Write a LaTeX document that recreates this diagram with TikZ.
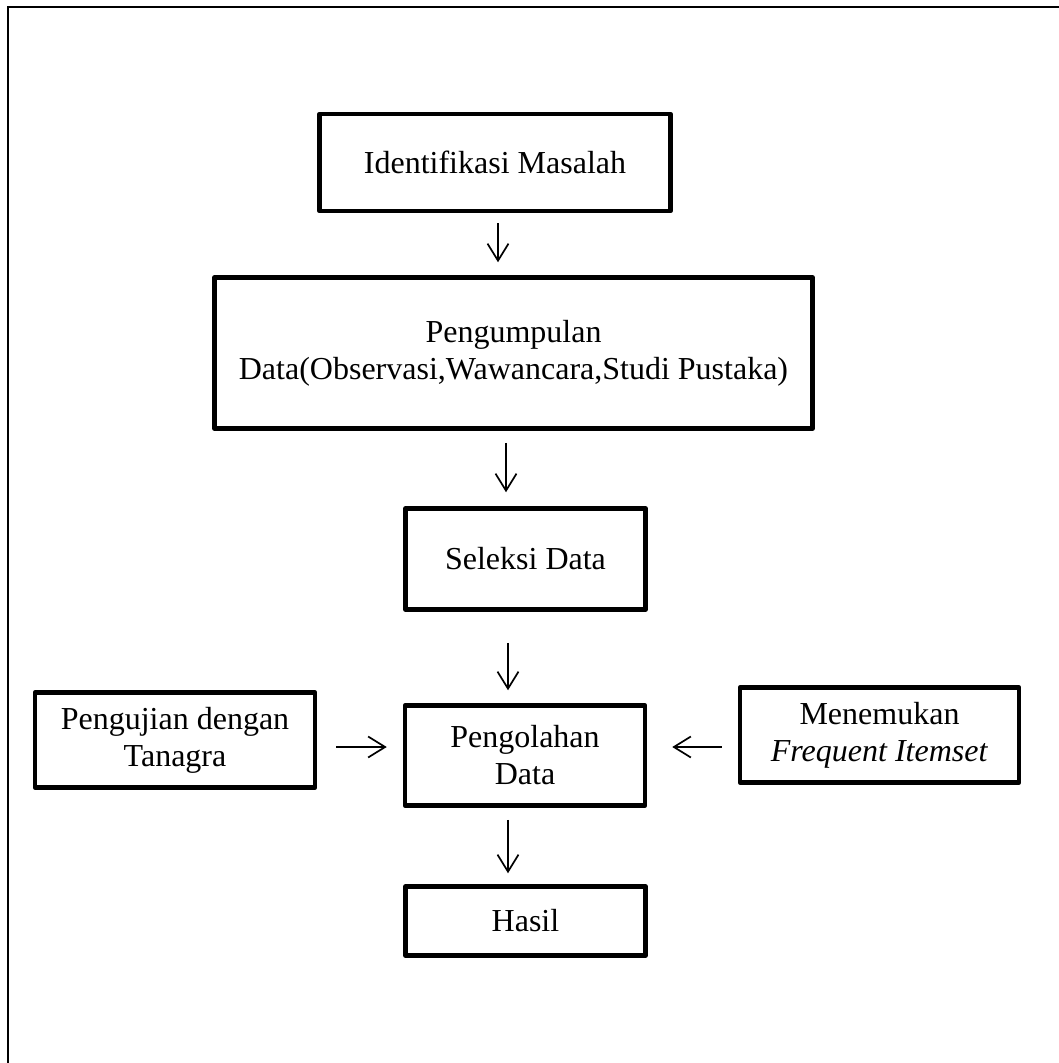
\documentclass[tikz,border=0pt]{standalone}
\usepackage{fontspec}
\setmainfont{Liberation Serif}
\usetikzlibrary{arrows.meta}

\begin{document}
\begin{tikzpicture}[x=1pt,y=-1pt,
  box/.style={draw,line width=4.5pt,line join=round,inner sep=0pt,align=center,font=\fontsize{32}{37}\selectfont},
  arr/.style={-{Straight Barb[length=17pt,width=21pt]},line width=1.7pt}]
  \useasboundingbox (0,0) rectangle (1059,1063);
  \draw[line width=2pt] (8,1080) -- (8,7) -- (1080,7);
  % main column
  \node[box,minimum width=351pt,minimum height=97pt] (ident) at (495,162.5) {Identifikasi Masalah};
  \node[box,minimum width=598pt,minimum height=151pt] (kumpul) at (513.5,353) {Pengumpulan\\Data(Observasi,Wawancara,Studi Pustaka)};
  \node[box,minimum width=240pt,minimum height=101pt] (seleksi) at (525.5,559) {Seleksi Data};
  \node[box,minimum width=240pt,minimum height=100pt] (olah) at (525,755.5) {Pengolahan\\Data};
  \node[box,minimum width=240pt,minimum height=69pt] (hasil) at (525.5,921) {Hasil};
  % side boxes
  \node[box,minimum width=280pt,minimum height=95pt] (uji) at (175,740) {Pengujian dengan\\Tanagra};
  \node[box,minimum width=279pt,minimum height=95pt] (temu) at (879.5,735) {Menemukan\\\textit{Frequent Itemset}};
  % arrows
  \draw[arr] ([xshift=3pt,yshift=-10pt]ident.south) -- ([xshift=-15.5pt,yshift=13pt]kumpul.north);
  \draw[arr] ([xshift=-7.5pt,yshift=-12pt]kumpul.south) -- ([xshift=-19.5pt,yshift=14pt]seleksi.north);
  \draw[arr] ([xshift=-17.5pt,yshift=-31pt]seleksi.south) -- ([xshift=-17pt,yshift=13pt]olah.north);
  \draw[arr] ([xshift=19pt,yshift=-7pt]uji.east) -- ([xshift=-16pt,yshift=8.5pt]olah.west);
  \draw[arr] ([xshift=-16pt,yshift=-12pt]temu.west) -- ([xshift=25pt,yshift=8.5pt]olah.east);
  \draw[arr] ([xshift=-17pt,yshift=-12pt]olah.south) -- ([xshift=-17.5pt,yshift=11pt]hasil.north);
\end{tikzpicture}
\end{document}
